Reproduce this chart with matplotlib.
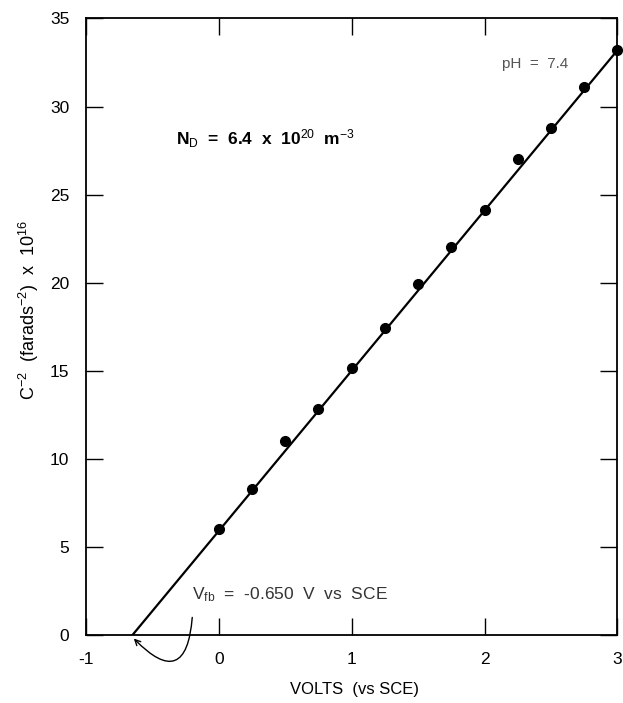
import matplotlib
matplotlib.use("Agg")
import matplotlib.pyplot as plt
import numpy as np

# Data
volts = [0.0, 0.25, 0.5, 0.75, 1.0, 1.25, 1.5, 1.75, 2.0, 2.25, 2.5, 2.75, 3.0]
inv_c2 = [6.0, 8.3, 11.0, 12.85, 15.15, 17.45, 19.95, 22.0, 24.15, 27.05, 28.8, 31.1, 33.2]
fit_x = [-0.65, 3.05]
fit_y = [0.0, 33.65]
x_ticks = [-1, 0, 1, 2, 3]
y_ticks = [0, 5, 10, 15, 20, 25, 30, 35]

plt.rcParams['font.family'] = ['Liberation Sans', 'DejaVu Sans']
plt.rcParams['axes.unicode_minus'] = False
plt.rcParams['mathtext.fontset'] = 'custom'
plt.rcParams['mathtext.rm'] = 'Liberation Sans'
plt.rcParams['mathtext.it'] = 'Liberation Sans'
plt.rcParams['mathtext.bf'] = 'Liberation Sans:bold'

fig = plt.figure(figsize=(6.23, 7.03), dpi=100)
ax = fig.add_axes([0.138, 0.0967, 0.853, 0.877])

ax.plot(fit_x, fit_y, color='black', lw=1.6, zorder=2)
ax.plot(volts, inv_c2, 'o', color='black', ms=7, zorder=3, clip_on=False)

ax.set_xlim(-1, 3)
ax.set_ylim(0, 35)
ax.set_xticks(x_ticks)
ax.set_yticks(y_ticks)
ax.tick_params(direction='in', length=12, width=1, top=True, right=True,
               labelsize=12.5, colors='black')
ax.tick_params(axis='y', pad=12)
ax.tick_params(axis='x', pad=12)
for s in ax.spines.values():
    s.set_linewidth(1.3)

ax.set_xlabel('VOLTS  (vs SCE)', fontsize=12)
ax.xaxis.set_label_coords(0.505, -0.077)
ax.set_ylabel(r'C$^{-2}$  (farads$^{-2}$)  x  10$^{16}$', fontsize=13)
ax.yaxis.set_label_coords(-0.085, 0.527)

ax.text(2.13, 32.4, 'pH  =  7.4', fontsize=11, color='#555555', va='center', ha='left')
ax.text(-0.32, 28.2,
        r'N$_{\mathrm{D}}$  =  6.4  x  10$^{\mathrm{20}}$  m$^{\mathrm{-3}}$',
        fontsize=12.5, fontweight='bold', va='center', ha='left')
ax.text(-0.2, 2.3, r'V$_{\mathrm{fb}}$  =  -0.650  V  vs  SCE', fontsize=12.5,
        color='#333333', va='center', ha='left')

ax.annotate('', xy=(-0.64, -0.2), xytext=(-0.2, 1.0),
            arrowprops=dict(arrowstyle='->', color='black', lw=1.0,
                            connectionstyle='arc3,rad=-1.1', shrinkA=0, shrinkB=0),
            annotation_clip=False)

fig.savefig('out.png', dpi=100)
